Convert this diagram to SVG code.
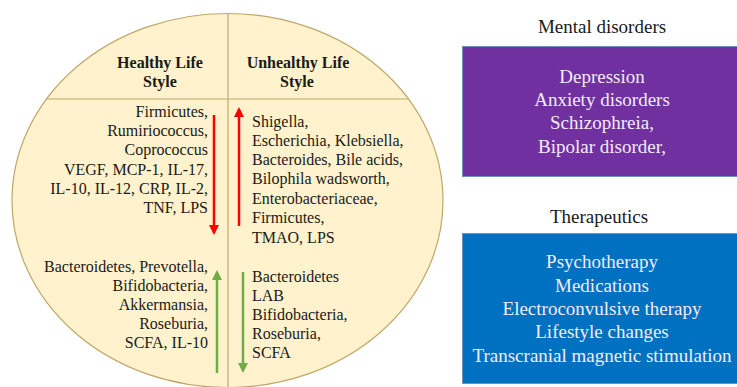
<svg xmlns="http://www.w3.org/2000/svg" width="737" height="387" viewBox="0 0 737 387">
<style>
.t{font-family:"Liberation Serif","Times New Roman",serif;font-size:16px;fill:#1a1a1a}
.h{font-weight:bold;text-anchor:middle}
.r{text-anchor:end}
.tt{font-family:"Liberation Serif","Times New Roman",serif;font-size:19px;fill:#1a1a1a;text-anchor:middle}
.bt{font-family:"Liberation Serif","Times New Roman",serif;font-size:19px;fill:#F2ECF8;text-anchor:middle}
.red{stroke:#FF0000;stroke-width:2.5;fill:none}
.grn{stroke:#70AD47;stroke-width:2.5;fill:none}
</style>
<defs>
<marker id="ar" viewBox="0 0 10 10" refX="8" refY="5" markerWidth="4" markerHeight="4" orient="auto"><path d="M0,0 L10,5 L0,10 z" fill="#FF0000"/></marker>
<marker id="ag" viewBox="0 0 10 10" refX="8" refY="5" markerWidth="4" markerHeight="4" orient="auto"><path d="M0,0 L10,5 L0,10 z" fill="#70AD47"/></marker>
</defs>
<rect width="737" height="387" fill="#FFFFFF"/>
<g id="lifestyle-circle">
<ellipse cx="227.5" cy="200.5" rx="215.5" ry="187" fill="#FFF2CC" stroke="#BFA76A" stroke-width="1.2"/>
<line x1="228" y1="13.5" x2="228" y2="387" stroke="#BFA76A" stroke-width="1.2"/>
<line x1="46.5" y1="99" x2="408.5" y2="99" stroke="#BFA76A" stroke-width="1.2"/>
</g>
<g id="healthy">
<text class="t h" x="160" y="68">Healthy Life</text>
<text class="t h" x="160" y="87">Style</text>
<text class="t r" x="208"><tspan x="208" y="117">Firmicutes,</tspan><tspan x="208" y="136">Rumiriococcus,</tspan><tspan x="208" y="155">Coprococcus</tspan><tspan x="208" y="175">VEGF, MCP-1, IL-17,</tspan><tspan x="208" y="194">IL-10, IL-12, CRP, IL-2,</tspan><tspan x="208" y="213">TNF, LPS</tspan></text>
<text class="t r" x="208"><tspan x="208" y="272">Bacteroidetes, Prevotella,</tspan><tspan x="208" y="291">Bifidobacteria,</tspan><tspan x="208" y="310">Akkermansia,</tspan><tspan x="208" y="329">Roseburia,</tspan><tspan x="208" y="348">SCFA, IL-10</tspan></text>
</g>
<g id="unhealthy">
<text class="t h" x="298" y="68">Unhealthy Life</text>
<text class="t h" x="297" y="87">Style</text>
<text class="t" x="252"><tspan x="252" y="127">Shigella,</tspan><tspan x="252" y="146">Escherichia, Klebsiella,</tspan><tspan x="252" y="165">Bacteroides, Bile acids,</tspan><tspan x="252" y="184">Bilophila wadsworth,</tspan><tspan x="252" y="204">Enterobacteriaceae,</tspan><tspan x="252" y="223">Firmicutes,</tspan><tspan x="252" y="243">TMAO, LPS</tspan></text>
<text class="t" x="252"><tspan x="252" y="282">Bacteroidetes</tspan><tspan x="252" y="301">LAB</tspan><tspan x="252" y="320">Bifidobacteria,</tspan><tspan x="252" y="339">Roseburia,</tspan><tspan x="252" y="358">SCFA</tspan></text>
</g>
<g id="connectors">
<line class="red" x1="214" y1="115" x2="214" y2="233" marker-end="url(#ar)"/>
<line class="red" x1="239" y1="226" x2="239" y2="109" marker-end="url(#ar)"/>
<line class="grn" x1="217" y1="373" x2="217" y2="272" marker-end="url(#ag)"/>
<line class="grn" x1="243" y1="272" x2="243" y2="371" marker-end="url(#ag)"/>
</g>
<g id="mental-disorders">
<text class="tt" x="602" y="33">Mental disorders</text>
<rect x="462.5" y="46.5" width="280" height="130" fill="#7030A0" stroke="#6F8FC0" stroke-width="1"/>
<text class="bt"><tspan x="602" y="83">Depression</tspan><tspan x="602" y="106">Anxiety disorders</tspan><tspan x="602" y="129">Schizophreia,</tspan><tspan x="602" y="153">Bipolar disorder,</tspan></text>
</g>
<g id="therapeutics">
<text class="tt" x="599" y="223">Therapeutics</text>
<rect x="462.5" y="233.5" width="280" height="150" fill="#0070C0" stroke="#6F8FC0" stroke-width="1"/>
<text class="bt"><tspan x="602" y="268">Psychotherapy</tspan><tspan x="602" y="292">Medications</tspan><tspan x="602" y="315">Electroconvulsive therapy</tspan><tspan x="602" y="338">Lifestyle changes</tspan><tspan x="602" y="362">Transcranial magnetic stimulation</tspan></text>
</g>
</svg>
